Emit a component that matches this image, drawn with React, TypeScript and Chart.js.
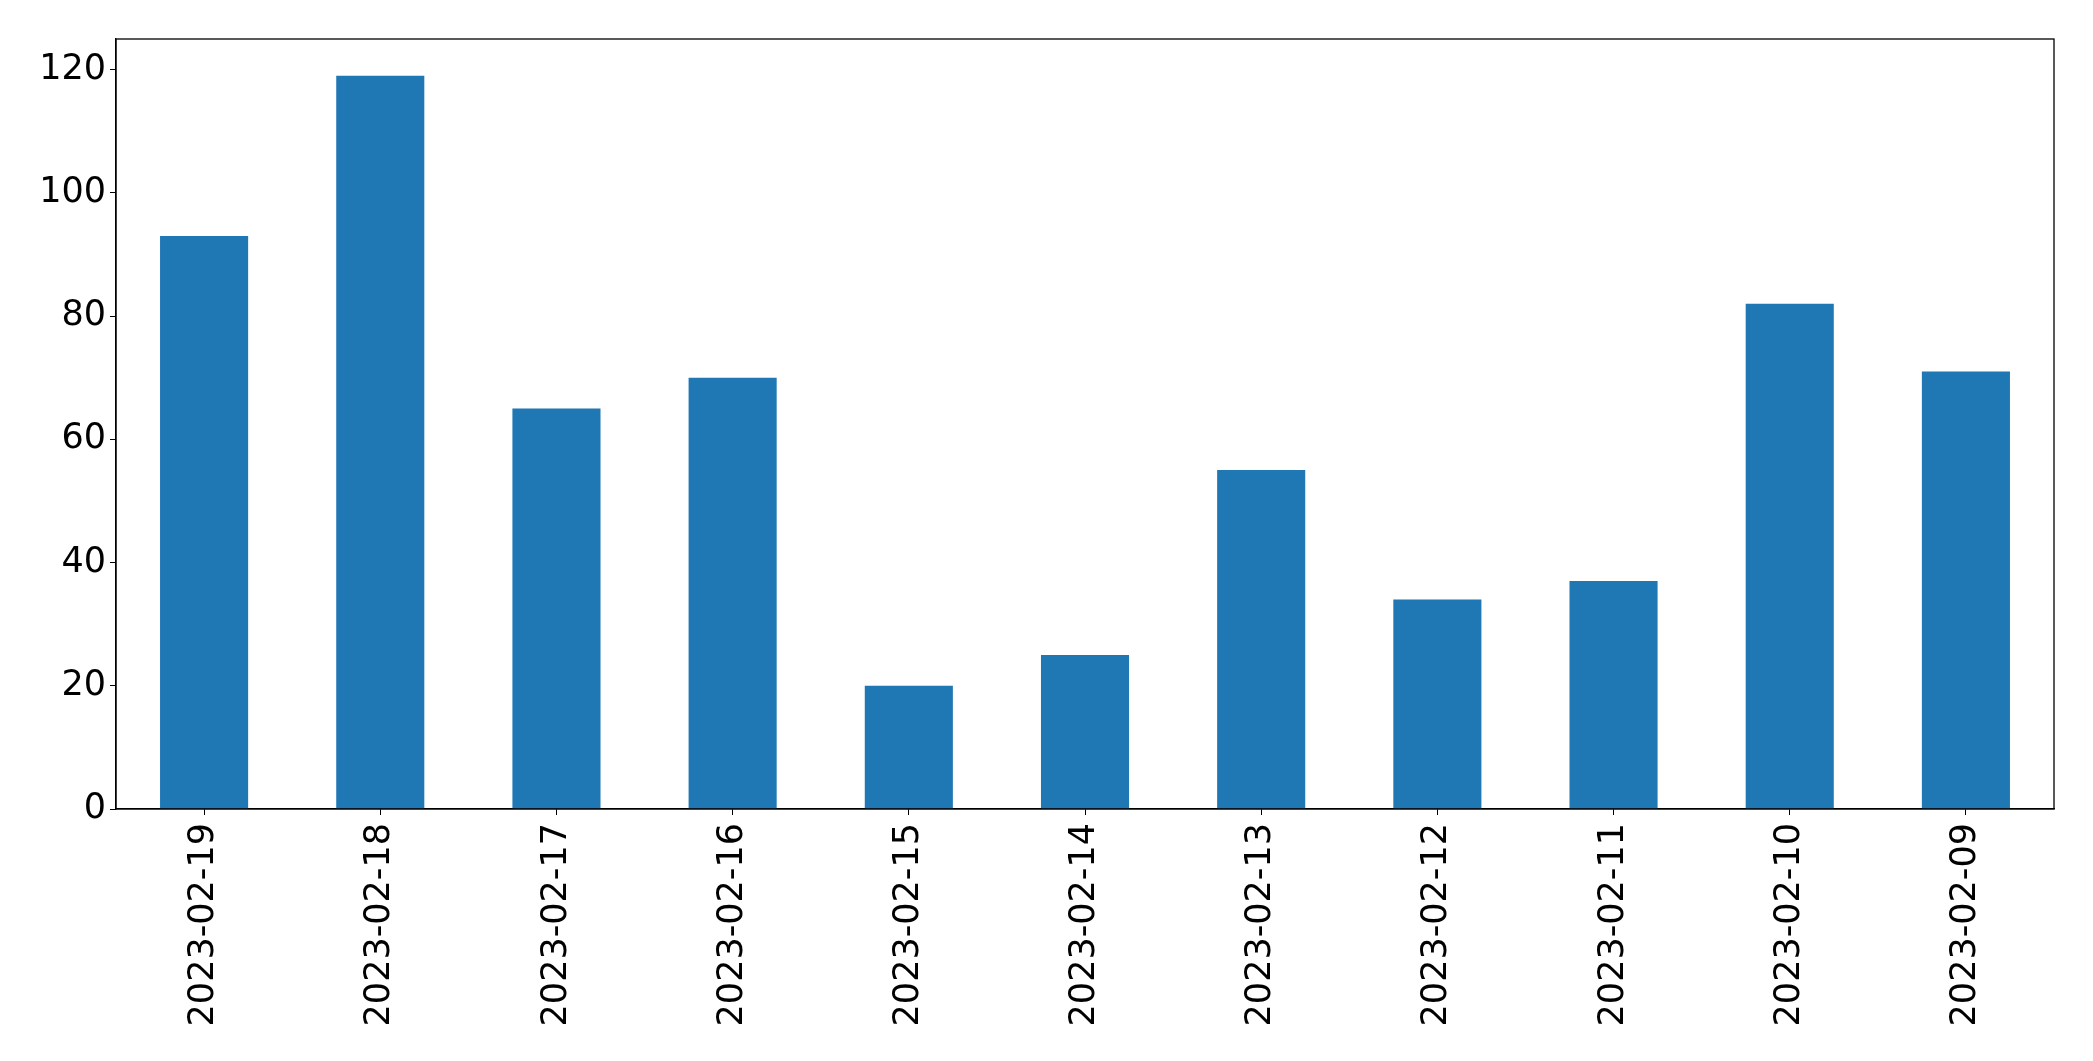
import React, { useEffect, useRef } from "react";
import { Chart, registerables } from "chart.js";

Chart.register(...registerables);

const categories = [
  "2023-02-19", "2023-02-18", "2023-02-17", "2023-02-16", "2023-02-15", "2023-02-14",
  "2023-02-13", "2023-02-12", "2023-02-11", "2023-02-10", "2023-02-09",
];
const counts = [93, 119, 65, 70, 20, 25, 55, 34, 37, 82, 71];
const yMax = 124.95;
const yStep = 20;

const framePlugin = {
  id: "frame",
  afterDraw(chart: any) {
    const { ctx, chartArea } = chart;
    ctx.save();
    ctx.strokeStyle = "#000";
    ctx.lineWidth = 1.3;
    ctx.strokeRect(chartArea.left, chartArea.top, chartArea.right - chartArea.left, chartArea.bottom - chartArea.top);
    ctx.restore();
  },
};

export default function App() {
  const ref = useRef<HTMLCanvasElement>(null);
  useEffect(() => {
    document.body.style.margin = "0";
    const font = { family: "'DejaVu Sans'", size: 35 };
    const chart = new Chart(ref.current!, {
      type: "bar",
      data: {
        labels: categories,
        datasets: [
          {
            data: counts,
            backgroundColor: "#1f77b4",
            categoryPercentage: 1,
            barPercentage: 0.5,
          },
        ],
      },
      options: {
        animation: false,
        responsive: false,
        devicePixelRatio: 1,
        layout: { padding: { left: 0, top: 39, right: 39, bottom: 0 } },
        plugins: { legend: { display: false }, tooltip: { enabled: false } },
        scales: {
          x: {
            grid: { display: true, offset: false, drawOnChartArea: false, drawTicks: true, tickLength: 6, color: "#000" },
            border: { display: true, color: "#000", width: 1.3 },
            ticks: { color: "#000", font, minRotation: 90, maxRotation: 90, padding: 8, autoSkip: false },
            afterFit(scale: any) {
              scale.height = 1061 - 809;
            },
          },
          y: {
            min: 0,
            max: yMax,
            grid: { display: true, drawOnChartArea: false, drawTicks: true, tickLength: 6, color: "#000" },
            border: { display: true, color: "#000", width: 1.3 },
            ticks: { color: "#000", font, stepSize: yStep, includeBounds: false, padding: 4 },
            afterFit(scale: any) {
              scale.width = 116;
            },
          },
        },
      },
      plugins: [framePlugin],
    });
    return () => chart.destroy();
  }, []);
  return (
    <div style={{ position: "absolute", left: 0, top: 0, width: 2093, height: 1061 }}>
      <canvas ref={ref} width={2093} height={1061} style={{ width: 2093, height: 1061 }} />
    </div>
  );
}
